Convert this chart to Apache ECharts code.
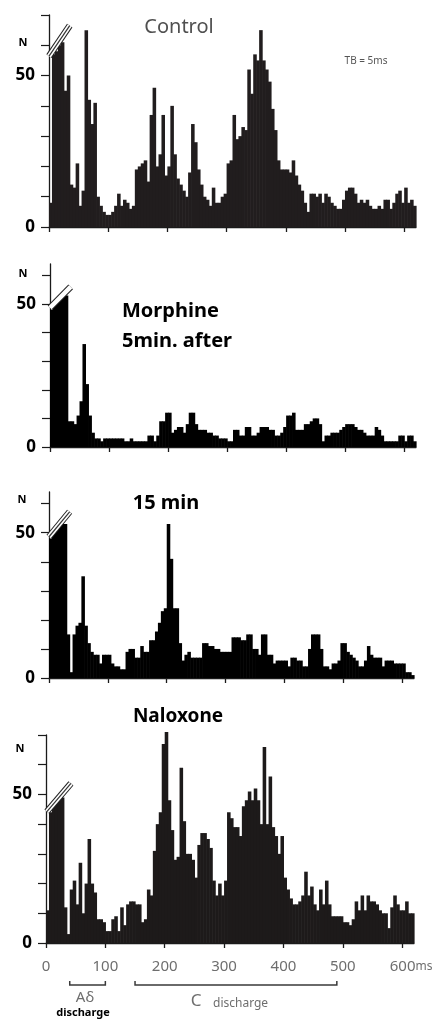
<!DOCTYPE html>
<html><head><meta charset="utf-8">
<script src="https://cdn.jsdelivr.net/npm/echarts@6/dist/echarts.min.js"></script>
<style>html,body{margin:0;padding:0;background:#fff}#c{width:444px;height:1020px}</style>
</head><body><div id="c"></div>
<script>
// ---- data (counts per 5 ms bin, 0..620 ms) ----
const BIN_MS = 5;
const xTickValues = [0, 100, 200, 300, 400, 500, 600];
const yTickValues70 = [0, 10, 20, 30, 40, 50, 60, 70];
const yTickValues60 = [0, 10, 20, 30, 40, 50, 60];
const yLabelValues = [0, 50];

const control = [8,57,58,60,61,45,50,14,13,21,
 7,12,65,42,34,41,10,7,5,4,
 4,5,7,11,7,9,8,6,7,19,
 20,21,22,15,37,46,20,24,37,17,
 20,40,24,16,14,12,10,18,34,28,
 19,14,10,9,7,13,8,8,10,11,
 21,22,37,29,30,33,32,52,44,57,
 55,65,55,52,48,39,32,22,19,19,
 19,18,22,17,14,12,8,5,11,11,
 10,11,8,11,10,8,7,6,6,9,
 12,13,13,11,8,9,8,9,7,6,
 6,7,6,9,9,6,8,11,12,8,
 13,8,9,7];

const morphine5 = [48,50,51,52,53,53,9,9,8,11,
 16,36,22,11,5,3,3,2,3,3,
 3,3,3,3,3,2,2,3,2,2,
 2,2,2,4,4,2,4,9,9,12,
 12,5,6,7,7,5,8,12,12,8,
 6,6,6,5,5,4,4,3,3,3,
 2,2,6,6,4,4,7,7,4,4,
 5,7,7,7,6,6,4,4,5,7,
 11,11,12,6,6,6,8,8,9,10,
 10,8,2,4,4,5,5,5,6,7,
 8,8,8,7,6,6,5,4,4,4,
 7,6,4,2,2,2,2,2,4,4,
 2,4,4,2];

const min15 = [48,50,51,52,53,53,15,2,15,18,
 19,35,18,12,9,8,8,5,8,8,
 8,5,4,4,3,3,9,10,10,7,
 7,11,9,9,13,13,16,19,23,24,
 53,41,24,24,12,6,8,9,7,7,
 7,7,12,12,11,11,10,10,9,9,
 9,9,14,14,14,13,13,15,15,10,
 10,8,15,15,8,8,5,6,6,6,
 6,4,7,7,6,6,4,4,10,15,
 15,15,10,4,4,3,5,5,6,12,
 12,9,8,7,6,4,4,6,11,8,
 7,7,7,4,6,6,6,5,5,5,
 5,2,2,1];

const naloxone = [11,44,46,47,49,49,12,3,18,21,
 13,27,10,20,35,20,17,8,8,7,
 4,4,8,9,4,12,6,13,14,14,
 13,13,7,8,18,16,31,40,44,67,
 71,48,38,28,29,59,41,30,30,28,
 22,33,37,37,35,32,21,16,20,16,
 21,44,42,39,39,36,46,48,51,48,
 52,48,40,66,40,56,39,36,30,36,
 22,18,15,13,13,14,16,24,16,19,
 13,11,18,13,21,13,9,9,9,9,
 7,7,6,8,14,11,16,11,16,14,
 14,13,11,10,10,5,12,16,13,11,
 11,14,10,10];

const dischargeRanges = [[40, 100], [150, 490]];

// ---- layout / style ----
const panels = [
  {data: control,   grid: {left: 49, top: 15,  width: 367, height: 212}, ymax: 70, yt: yTickValues70, fill: '#211d1e',
   brk: [0, 56.4, 35, 66.5], dbl: true},
  {data: morphine5, grid: {left: 50, top: 264, width: 366, height: 183}, ymax: 64, yt: yTickValues60, fill: '#000',
   brk: [0, 48.7, 35, 56.0], dbl: false},
  {data: min15,     grid: {left: 49, top: 492, width: 365, height: 186}, ymax: 64, yt: yTickValues60, fill: '#000',
   brk: [0, 48.6, 35, 57.2], dbl: true},
  {data: naloxone,  grid: {left: 46, top: 735, width: 368, height: 208}, ymax: 70, yt: yTickValues70, fill: '#1d1a1a',
   brk: [1.5, 44.2, 42, 53.7], dbl: true}
];

const AX = '#1a1a1a';
const grids = [], xAxes = [], yAxes = [], series = [];

panels.forEach((p, k) => {
  grids.push(Object.assign({outerBoundsMode: 'none', containLabel: false}, p.grid));
  const last = k === 3;
  xAxes.push({
    type: 'value', gridIndex: k, min: 0, max: 620,
    axisLine: {show: true, onZero: true, lineStyle: {color: AX, width: 1.3}},
    axisTick: {show: true, length: 5, customValues: xTickValues, lineStyle: {color: AX, width: 1.3}},
    splitLine: {show: false},
    axisLabel: last ? {
      show: true, customValues: xTickValues, margin: 16, color: '#6e6e6e',
      fontFamily: 'Noto Sans', fontSize: 15,
      formatter: v => v === 600 ? '{n|600}{u|ms}' : String(v),
      rich: {n: {fontFamily: 'Noto Sans', fontSize: 15, color: '#6e6e6e', padding: [0, 0, 0, 18]},
             u: {fontFamily: 'Noto Sans', fontSize: 12, color: '#6e6e6e'}}
    } : {show: false}
  });
  yAxes.push({
    type: 'value', gridIndex: k, min: 0, max: p.ymax,
    axisLine: {show: true, lineStyle: {color: AX, width: 1.3}},
    axisTick: {show: true, length: 8, customValues: p.yt, lineStyle: {color: AX, width: 1.2}},
    splitLine: {show: false},
    axisLabel: {show: true, customValues: yLabelValues, margin: 14, color: '#000',
      fontFamily: 'Noto Sans', fontWeight: 'bold', fontSize: 17}
  });
  const fill = p.fill;
  series.push({
    type: 'custom', xAxisIndex: k, yAxisIndex: k, silent: true,
    data: p.data.map((v, i) => [i * BIN_MS, v]),
    renderItem: (params, api) => {
      const x = api.value(0), v = api.value(1);
      const a = api.coord([x, v]);
      const b = api.coord([x + BIN_MS, 0]);
      return {type: 'rect', shape: {x: a[0], y: a[1], width: b[0] - a[0] + 0.6, height: b[1] - a[1]},
              style: {fill: fill}};
    }
  });
  const dbl = p.dbl;
  series.push({
    type: 'custom', xAxisIndex: k, yAxisIndex: k, silent: true, clip: false, z: 5,
    data: [p.brk],
    renderItem: (params, api) => {
      const a = api.coord([api.value(0), api.value(1)]);
      const b = api.coord([api.value(2), api.value(3)]);
      const sh = {x1: a[0], y1: a[1], x2: b[0], y2: b[1]};
      const ch = [
        {type: 'line', shape: sh, style: {stroke: '#222', lineWidth: 6.5, lineCap: 'butt'}},
        {type: 'line', shape: sh, style: {stroke: '#fff', lineWidth: 4.5, lineCap: 'butt'}}
      ];
      if (dbl) ch.push({type: 'line', shape: sh, style: {stroke: '#333', lineWidth: 1.2, lineCap: 'butt'}});
      return {type: 'group', children: ch};
    }
  });
});

// brackets for A-delta and C discharge under the bottom axis
series.push({
  type: 'custom', xAxisIndex: 3, yAxisIndex: 3, silent: true, clip: false,
  data: dischargeRanges,
  renderItem: (params, api) => {
    const a = api.coord([api.value(0), 0]);
    const b = api.coord([api.value(1), 0]);
    const y = a[1] + 42;
    return {type: 'polyline', shape: {points: [[a[0], y - 4], [a[0], y], [b[0], y], [b[0], y - 4]]},
            style: {stroke: '#3a3a3a', lineWidth: 1.5, fill: null}};
  }
});

const T = (text, x, y, o) => Object.assign({type: 'text', x: x, y: y,
  style: Object.assign({text: text, fontFamily: 'Noto Sans', fill: '#000', align: 'center', verticalAlign: 'middle'}, o || {})});

const graphic = [
  T('N', 23, 43, {fontSize: 11, fontWeight: 'bold'}),
  T('Control', 179, 27, {fontSize: 20, fill: '#505050'}),
  T('TB = 5ms', 366, 61, {fontSize: 10, fill: '#555'}),
  T('N', 23, 274, {fontSize: 11, fontWeight: 'bold'}),
  T('Morphine', 122, 311, {fontSize: 20, fontWeight: 'bold', align: 'left'}),
  T('5min. after', 122, 341, {fontSize: 20, fontWeight: 'bold', align: 'left'}),
  T('N', 22, 500, {fontSize: 11, fontWeight: 'bold'}),
  T('15 min', 166, 503, {fontSize: 20, fontWeight: 'bold'}),
  T('N', 20, 749, {fontSize: 11, fontWeight: 'bold'}),
  T('Naloxone', 178, 717, {fontSize: 19, fontWeight: 'bold'}),
  T('A\u03b4', 85, 998, {fontSize: 15, fill: '#6e6e6e'}),
  T('discharge', 83, 1013, {fontSize: 11, fontWeight: 'bold'}),
  T('C', 196, 1001, {fontSize: 17, fill: '#6e6e6e'}),
  T('discharge', 213, 1004, {fontSize: 12, fill: '#6e6e6e', align: 'left'})
];

const chart = echarts.init(document.getElementById('c'), null, {renderer: 'canvas'});
chart.setOption({
  animation: false,
  backgroundColor: '#fff',
  grid: grids, xAxis: xAxes, yAxis: yAxes, series: series, graphic: graphic
});
</script></body></html>
